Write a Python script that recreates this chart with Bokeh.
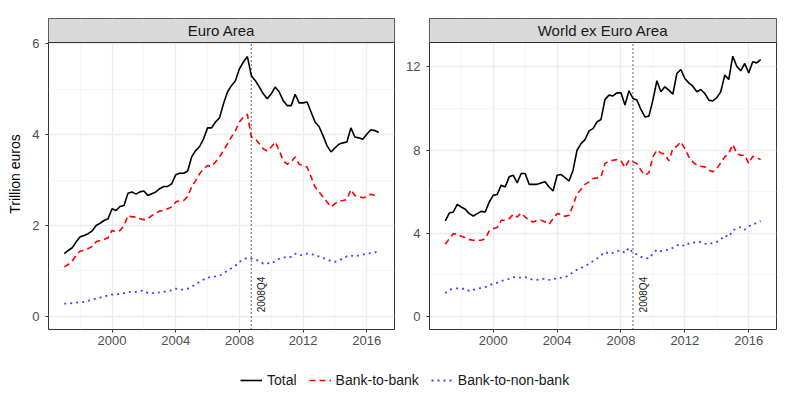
import math
from bokeh.plotting import figure
from bokeh.models import Range1d, FixedTicker, Label, Span, Legend, LegendItem, ColumnDataSource
from bokeh.layouts import row, column
from bokeh.embed import file_html
from bokeh.resources import INLINE

# ---------------- data (quarterly, 1997Q1 .. 2016Q4) ----------------
quarters = [1997 + 0.25 * i for i in range(80)]
crisis_date = 2008.75
crisis_label = "2008Q4"

ea_total = [1.38, 1.45, 1.51, 1.64, 1.75, 1.78, 1.82, 1.88, 2.00, 2.05, 2.11, 2.15,
            2.37, 2.33, 2.42, 2.44, 2.71, 2.74, 2.69, 2.74, 2.76, 2.66, 2.70, 2.74,
            2.81, 2.86, 2.86, 2.92, 3.12, 3.15, 3.15, 3.20, 3.51, 3.65, 3.74, 3.91,
            4.15, 4.15, 4.28, 4.37,
            4.68, 4.94, 5.08, 5.19, 5.45, 5.60, 5.72, 5.30, 5.19, 5.05, 4.90, 4.79,
            4.90, 5.05, 4.94, 4.75, 4.64, 4.64, 4.89, 4.70, 4.70, 4.72, 4.50, 4.28,
            4.18, 3.98, 3.76, 3.62, 3.71, 3.79, 3.82, 3.84, 4.15, 3.95, 3.93, 3.90,
            4.01, 4.11, 4.09, 4.05]
ea_b2b = [1.09, 1.14, 1.22, 1.34, 1.44, 1.45, 1.49, 1.54, 1.64, 1.67, 1.69, 1.73,
          1.89, 1.86, 1.89, 2.00, 2.22, 2.19, 2.19, 2.15, 2.13, 2.15, 2.22, 2.27,
          2.32, 2.33, 2.37, 2.41, 2.52, 2.54, 2.55, 2.64, 2.85, 2.99, 3.14, 3.25,
          3.32, 3.30, 3.40, 3.51,
          3.65, 3.80, 3.95, 4.09, 4.28, 4.39, 4.45, 3.95, 3.91, 3.80, 3.69, 3.64,
          3.73, 3.84, 3.65, 3.43, 3.35, 3.40, 3.51, 3.35, 3.32, 3.29, 3.07, 2.85,
          2.74, 2.63, 2.52, 2.41, 2.48, 2.54, 2.55, 2.57, 2.79, 2.66, 2.64, 2.61,
          2.63, 2.69, 2.66, 2.64]
ea_b2nb = [0.28, 0.28, 0.29, 0.30, 0.31, 0.32, 0.34, 0.37, 0.39, 0.41, 0.44, 0.46,
           0.48, 0.48, 0.50, 0.51, 0.54, 0.54, 0.54, 0.56, 0.57, 0.51, 0.51, 0.51,
           0.53, 0.54, 0.56, 0.57, 0.61, 0.59, 0.59, 0.61, 0.65, 0.70, 0.76, 0.81,
           0.85, 0.87, 0.88, 0.90,
           0.94, 1.01, 1.06, 1.12, 1.20, 1.25, 1.29, 1.27, 1.25, 1.22, 1.16, 1.17,
           1.16, 1.22, 1.27, 1.29, 1.31, 1.31, 1.38, 1.34, 1.36, 1.38, 1.38, 1.34,
           1.32, 1.29, 1.25, 1.22, 1.20, 1.23, 1.27, 1.32, 1.34, 1.32, 1.34, 1.36,
           1.38, 1.39, 1.41, 1.42]

wx_total = [4.59, 4.97, 5.02, 5.39, 5.26, 5.15, 4.94, 4.83, 4.94, 5.05, 5.02, 5.50,
            5.82, 5.86, 6.31, 6.22, 6.71, 6.79, 6.42, 6.87, 6.87, 6.35, 6.35, 6.35,
            6.42, 6.47, 6.22, 6.03, 6.79, 6.82, 6.67, 6.51, 7.03, 7.99, 8.31, 8.50,
            8.92, 9.03, 9.35, 9.47,
            10.43, 10.64, 10.60, 10.75, 10.75, 10.16, 10.85, 10.48, 10.40, 9.95, 9.59, 9.63,
            10.40, 11.33, 10.80, 11.04, 10.88, 10.69, 11.68, 11.87, 11.44, 11.23, 11.07, 10.80,
            10.91, 10.72, 10.40, 10.36, 10.52, 10.80, 11.60, 11.39, 12.51, 12.03, 11.81, 12.16,
            11.71, 12.24, 12.19, 12.35]
wx_b2b = [3.47, 3.74, 3.98, 3.95, 3.85, 3.79, 3.69, 3.66, 3.66, 3.66, 3.74, 4.11,
          4.22, 4.27, 4.62, 4.62, 4.70, 4.91, 4.78, 4.97, 4.78, 4.62, 4.54, 4.62,
          4.62, 4.54, 4.43, 4.70, 4.94, 4.91, 4.81, 4.86, 5.34, 5.90, 6.10, 6.35,
          6.47, 6.63, 6.66, 6.71,
          7.35, 7.48, 7.51, 7.54, 7.48, 7.16, 7.51, 7.43, 7.35, 7.03, 6.79, 6.90,
          7.67, 7.99, 7.86, 7.80, 7.48, 8.07, 8.18, 8.39, 8.07, 7.67, 7.43, 7.27,
          7.22, 7.19, 7.03, 6.95, 7.11, 7.38, 7.67, 7.83, 8.27, 7.83, 7.75, 7.75,
          7.35, 7.70, 7.64, 7.54]
wx_b2nb = [1.12, 1.28, 1.33, 1.35, 1.33, 1.33, 1.22, 1.28, 1.33, 1.36, 1.41, 1.49,
           1.57, 1.62, 1.70, 1.76, 1.81, 1.89, 1.86, 1.86, 1.89, 1.81, 1.76, 1.76,
           1.80, 1.80, 1.76, 1.76, 1.86, 1.86, 1.89, 1.97, 2.13, 2.25, 2.34, 2.41,
           2.53, 2.66, 2.78, 2.94,
           3.10, 3.02, 3.06, 3.14, 3.18, 3.05, 3.30, 3.06, 2.98, 2.86, 2.82, 2.78,
           3.02, 3.21, 3.14, 3.18, 3.21, 3.30, 3.42, 3.47, 3.37, 3.50, 3.56, 3.53,
           3.58, 3.50, 3.47, 3.53, 3.58, 3.69, 3.90, 3.82, 4.14, 4.22, 4.30, 4.17,
           4.33, 4.43, 4.49, 4.59]

x_major = [2000, 2004, 2008, 2012, 2016]
x_minor = [1998, 2002, 2006, 2010, 2014]
series_names = ["Total", "Bank-to-bank", "Bank-to-non-bank"]

# ---------------- style ----------------
FONT = "Liberation Sans"
X_LIM = (1996.01, 2017.74)
PANEL_PX = 287
STRIP_PX = 24
STYLES = [dict(line_color="black", line_width=1.6),
          dict(line_color="#ff0000", line_width=1.6, line_dash="6 4"),
          dict(line_color="#0000ff", line_width=1.8, line_dash="2 4", line_alpha=0.75)]


def make_panel(title, series, ylim, yticks, yminor, width, bl, br, ylabel=None):
    y0, y1 = ylim
    y_top = y1 + STRIP_PX * (y1 - y0) / PANEL_PX
    p = figure(width=width, height=360, output_backend="svg", toolbar_location=None,
               x_range=Range1d(*X_LIM), y_range=Range1d(y0, y_top),
               min_border_left=bl, min_border_right=br, min_border_top=18,
               min_border_bottom=31)
    p.outline_line_color = "#333333"
    p.outline_line_width = 1
    p.background_fill_color = "white"

    p.xaxis.ticker = FixedTicker(ticks=x_major, minor_ticks=x_minor)
    p.yaxis.ticker = FixedTicker(ticks=yticks, minor_ticks=yminor)
    for ax in (p.xaxis[0], p.yaxis[0]):
        ax.axis_line_color = None
        ax.major_tick_line_color = "#333333"
        ax.major_tick_out = 3
        ax.major_tick_in = 0
        ax.minor_tick_line_color = None
        ax.major_label_text_font = FONT
        ax.major_label_text_font_size = "13px"
        ax.major_label_text_color = "#4d4d4d"
    p.xaxis.major_label_standoff = 2
    p.yaxis.major_label_standoff = 5
    if ylabel:
        p.yaxis.axis_label = ylabel
        p.yaxis.axis_label_text_font = FONT
        p.yaxis.axis_label_text_font_size = "14px"
        p.yaxis.axis_label_text_font_style = "normal"
        p.yaxis.axis_label_text_color = "black"
        p.yaxis.axis_label_standoff = 6
    for g in (p.xgrid[0], p.ygrid[0]):
        g.grid_line_color = "#ebebeb"
        g.grid_line_width = 1.3
        g.minor_grid_line_color = "#f2f2f2"
        g.minor_grid_line_width = 0.8

    src = ColumnDataSource(dict(x=quarters, total=series[0], b2b=series[1], b2nb=series[2]))
    for col, st in zip(["total", "b2b", "b2nb"], STYLES):
        p.line("x", col, source=src, **st)

    # crisis marker
    p.segment(x0=[crisis_date], y0=[y0], x1=[crisis_date], y1=[y1],
              line_color="#222222", line_width=1.4, line_dash="1 3")
    p.add_layout(Label(x=crisis_date, y=0, x_offset=5, y_offset=4, angle=math.pi / 2,
                       text=crisis_label, text_align="left", text_baseline="top",
                       text_font=FONT, text_font_size="10px", text_color="#1a1a1a"))

    # facet strip
    p.quad(left=[X_LIM[0]], right=[X_LIM[1]], bottom=[y1], top=[y_top],
           fill_color="#d9d9d9", line_color=None)
    p.add_layout(Span(location=y1, dimension="width", line_color="#333333", line_width=1))
    p.add_layout(Label(x=(X_LIM[0] + X_LIM[1]) / 2, y=(y1 + y_top) / 2, text=title,
                       text_align="center", text_baseline="middle", text_font=FONT,
                       text_font_size="15px", text_color="#1a1a1a"))
    return p


left = make_panel("Euro Area", (ea_total, ea_b2b, ea_b2nb), (-0.29, 6.03),
                  [0, 2, 4, 6], [1, 3, 5], 402, 48, 8, ylabel="Trillion euros")
right = make_panel("World ex Euro Area", (wx_total, wx_b2b, wx_b2nb), (-0.63, 13.17),
                   [0, 4, 8, 12], [2, 6, 10], 390, 27, 16)

# legend strip (its lines use the real series but lie outside the legend's own range)
lg = figure(width=792, height=31, output_backend="svg", toolbar_location=None,
            x_range=Range1d(0, 1), y_range=Range1d(0, 1),
            min_border_left=0, min_border_right=0, min_border_top=0, min_border_bottom=0)
lg.axis.visible = False
lg.grid.visible = False
lg.outline_line_color = None
items = []
for name, vals, st in zip(series_names, [ea_total, ea_b2b, ea_b2nb], STYLES):
    r = lg.line(x=quarters, y=vals, **st)
    items.append(LegendItem(label=name, renderers=[r]))
legend = Legend(items=items, orientation="horizontal", location=(240, 1), padding=0,
                margin=0, border_line_color=None, background_fill_alpha=0,
                label_text_font=FONT, label_text_font_size="14px",
                label_text_color="#1a1a1a", glyph_width=22, label_standoff=5, spacing=12)
lg.add_layout(legend)

layout = column(row(left, right), lg)
open("out.html", "w").write(file_html(layout, INLINE))
